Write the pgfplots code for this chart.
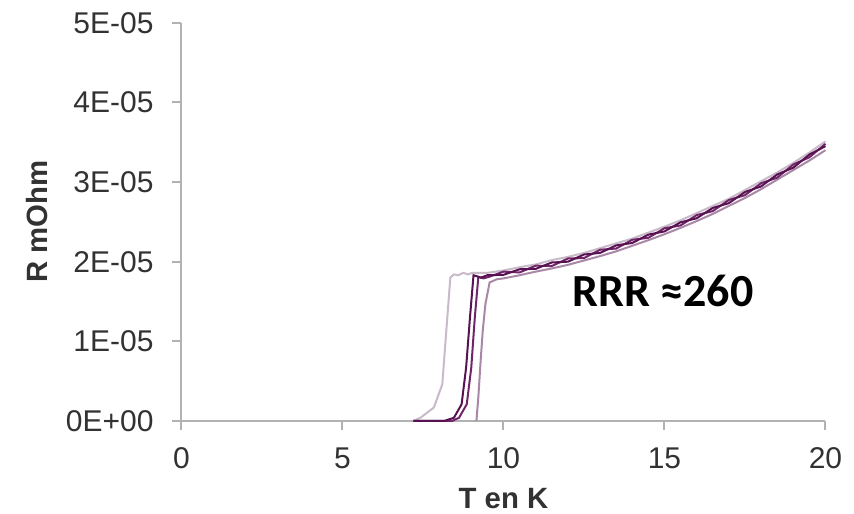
\documentclass[border=0pt]{standalone}
\usepackage{pgfplots}
\pgfplotsset{compat=1.18}
\usepackage{fontspec}
\setmainfont{Liberation Sans}
\newfontfamily\carlito{Carlito}
\definecolor{axisgray}{RGB}{178,178,178}
\definecolor{ticktext}{RGB}{50,50,50}
\definecolor{darkA}{RGB}{88,18,82}
\definecolor{darkB}{RGB}{112,38,104}
\definecolor{lightA}{RGB}{200,186,200}
\definecolor{lightB}{RGB}{168,136,166}
\begin{document}
\begin{tikzpicture}
\path[use as bounding box] (-136.1pt,-69.75pt) rectangle (504.4pt,315.75pt);
\begin{axis}[
  at={(0,0)}, anchor=south west,
  scale only axis, width=483pt, height=298.7pt,
  xmin=0, xmax=20, ymin=0, ymax=5e-5,
  clip=false,
  axis lines=left,
  axis line style={-, draw=axisgray, line width=1.5pt},
  tick style={draw=axisgray, line width=1.5pt},
  tick align=outside, major tick length=6.75pt,
  xtick={0,5,10,15,20}, xticklabels={0,5,10,15,20},
  ytick={0,1e-5,2e-5,3e-5,4e-5,5e-5},
  yticklabels={0E+00,1E-05,2E-05,3E-05,4E-05,5E-05},
  scaled y ticks=false, scaled x ticks=false,
  /pgf/number format/assume math mode=true,
  ticklabel style={font=\fontsize{22.5}{26}\selectfont, text=ticktext},
  yticklabel style={anchor=east, inner sep=0pt, xshift=-14pt},
  xticklabel style={anchor=base, inner sep=0pt, yshift=-29pt},
  xlabel={T en K}, ylabel={R mOhm},
  label style={font=\bfseries\fontsize{22}{26}\selectfont, text=ticktext},
  xlabel style={at={(axis description cs:0.5,-0.2185)}, anchor=base},
  ylabel style={at={(axis description cs:-0.2073,0.5)}, anchor=base},
]
\addplot[color=lightA, line width=1.5pt] coordinates {
(7.2,0) (7.42,0.04e-5) (7.84,0.17e-5) (8.1,0.46e-5) (8.2,1.0e-5) (8.35,1.80e-5)
(8.46,1.84e-5) (8.6,1.83e-5) (8.75,1.86e-5) (8.9,1.84e-5) (9.03,1.86e-5)
(9.5,1.86e-5) (10,1.89e-5) (10.5,1.93e-5) (11,1.965e-5) (11.5,2.02e-5)
(12,2.06e-5) (12.5,2.11e-5) (13,2.17e-5) (13.5,2.23e-5) (14,2.29e-5)
(14.5,2.365e-5) (15,2.44e-5) (15.5,2.52e-5) (16,2.61e-5) (16.5,2.70e-5)
(17,2.79e-5) (17.5,2.90e-5) (18,3.01e-5) (18.5,3.12e-5) (19,3.24e-5)
(19.5,3.37e-5) (20,3.51e-5)};
\addplot[color=lightB, line width=1.5pt] coordinates {
(9.16,0) (9.22,0.3e-5) (9.29,0.75e-5) (9.36,1.15e-5) (9.44,1.47e-5)
(9.57,1.74e-5) (9.8,1.78e-5) (10,1.79e-5) (10.5,1.83e-5) (11,1.875e-5)
(11.5,1.915e-5) (12,1.96e-5) (12.5,2.015e-5) (13,2.07e-5) (13.5,2.13e-5)
(14,2.20e-5) (14.5,2.27e-5) (15,2.345e-5) (15.5,2.425e-5) (16,2.51e-5)
(16.5,2.60e-5) (17,2.70e-5) (17.5,2.80e-5) (18,2.91e-5) (18.5,3.03e-5)
(19,3.15e-5) (19.5,3.27e-5) (20,3.40e-5)};
\addplot[color=darkB, line width=1.5pt] coordinates {
(7.2,0) (8.4,0) (8.62,0.04e-5) (8.86,0.21e-5) (9.0,0.67e-5) (9.11,1.30e-5)
(9.22,1.81e-5) (9.38,1.79e-5) (9.55,1.81e-5) (10,1.875e-5) (10.5,1.865e-5)
(11,1.95e-5) (11.5,1.945e-5) (12,2.04e-5) (12.5,2.045e-5) (13,2.15e-5)
(13.5,2.165e-5) (14,2.275e-5) (14.5,2.30e-5) (15,2.42e-5) (15.5,2.455e-5)
(16,2.585e-5) (16.5,2.635e-5) (17,2.775e-5) (17.5,2.835e-5) (18,2.985e-5)
(18.5,3.055e-5) (19,3.22e-5) (19.5,3.31e-5) (20,3.48e-5)};
\addplot[color=darkA, line width=1.5pt] coordinates {
(7.2,0) (8.15,0) (8.46,0.04e-5) (8.7,0.21e-5) (8.84,0.67e-5) (8.96,1.30e-5)
(9.07,1.83e-5) (9.3,1.80e-5) (9.5,1.83e-5) (10,1.835e-5) (10.5,1.905e-5)
(11,1.91e-5) (11.5,1.99e-5) (12,2.0e-5) (12.5,2.09e-5) (13,2.11e-5)
(13.5,2.205e-5) (14,2.235e-5) (14.5,2.34e-5) (15,2.38e-5) (15.5,2.495e-5)
(16,2.545e-5) (16.5,2.675e-5) (17,2.735e-5) (17.5,2.875e-5) (18,2.945e-5)
(18.5,3.095e-5) (19,3.18e-5) (19.5,3.345e-5) (20,3.45e-5)};
\node[anchor=base, inner sep=0pt, font=\carlito\bfseries\fontsize{34.5}{40}\selectfont, text=black] at (axis cs:14.95,1.435e-5) {RRR ≈260};
\end{axis}
\end{tikzpicture}
\end{document}
